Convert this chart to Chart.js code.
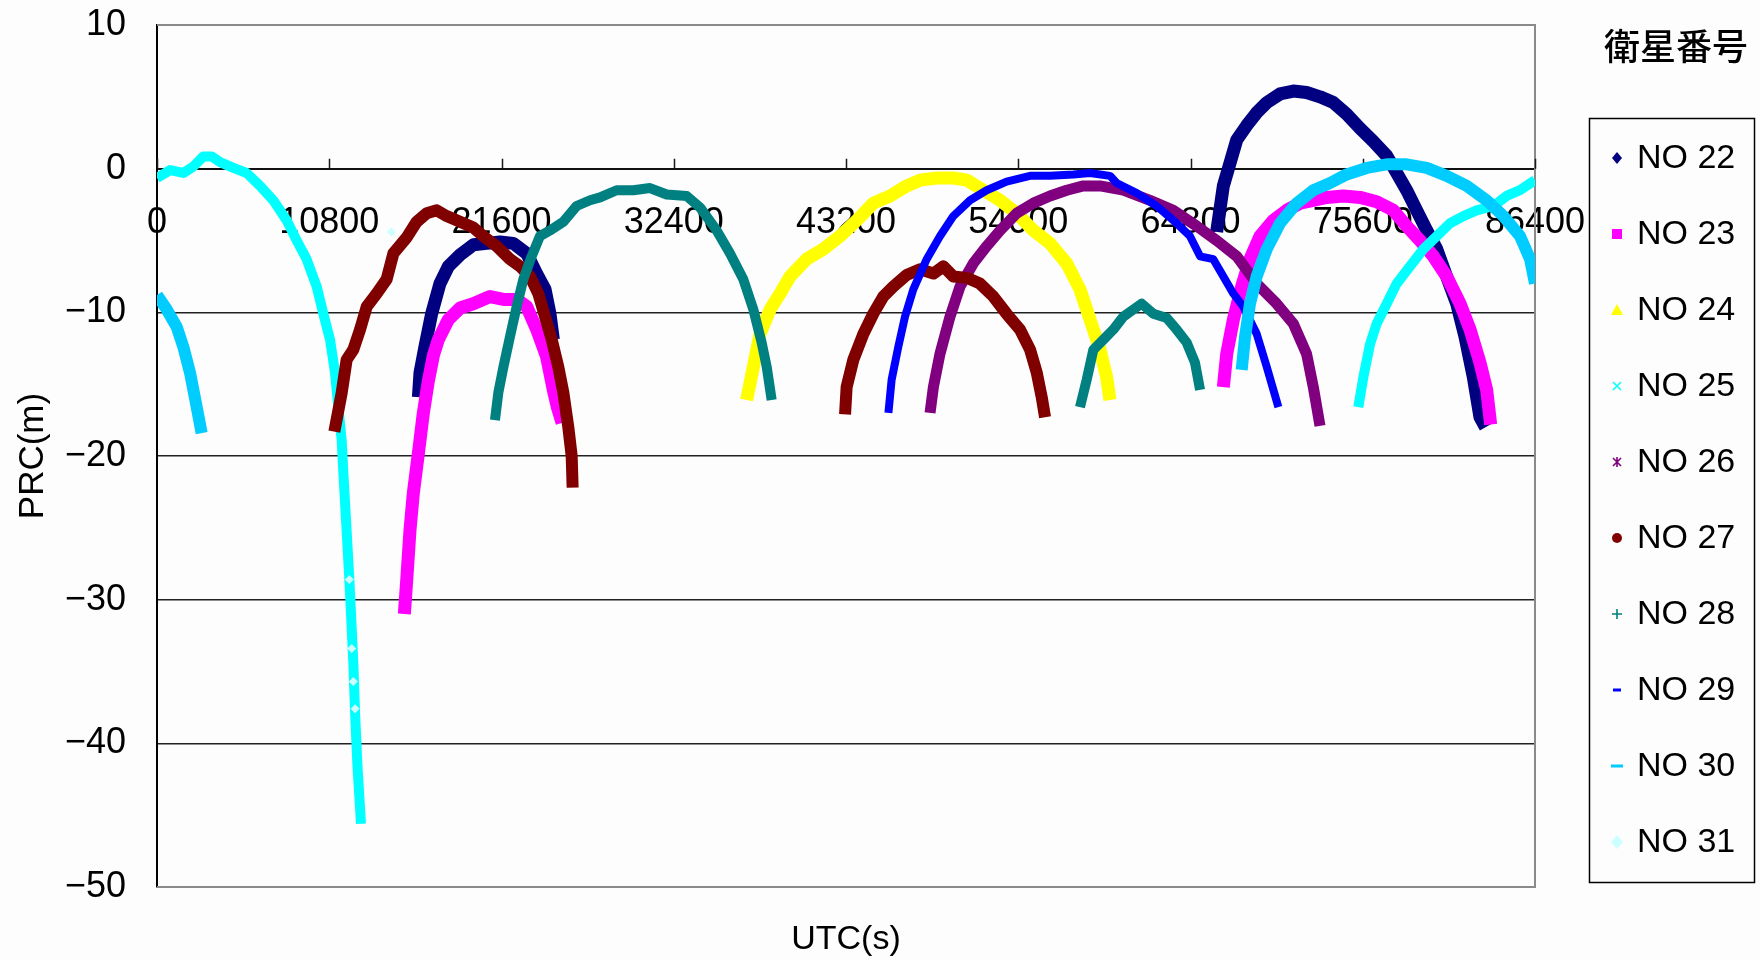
<!DOCTYPE html>
<html>
<head>
<meta charset="utf-8">
<script src="https://cdn.jsdelivr.net/npm/chart.js@4.4.1/dist/chart.umd.min.js"></script>
<style>
  html, body { margin: 0; padding: 0; background: #fdfdfd; }
  #wrap { position: relative; width: 1760px; height: 960px; }
</style>
</head>
<body>
<div id="wrap"><canvas id="c" width="1760" height="960"></canvas></div>
<script>
// ---- satellites, colours and axis ticks ----
const satLabels = ['NO 22', 'NO 23', 'NO 24', 'NO 25', 'NO 26', 'NO 27', 'NO 28', 'NO 29', 'NO 30', 'NO 31'];
const satColors = ['#000080', '#ff00ff', '#ffff00', '#00ffff', '#800080', '#800000', '#008080', '#0000ff', '#00ccff', '#ccffff'];
const xTicks = [0, 10800, 21600, 32400, 43200, 54000, 64800, 75600, 86400];
const yTicks = [10, 0, -10, -20, -30, -40, -50];

// ---- PRC (m) against UTC (s), one pair of arrays per visibility pass ----
const no22T1 = [16390, 16490, 16800, 17220, 17740, 18270, 19000, 19830, 20670, 21510, 22340, 23180, 23800, 24330, 24640, 24850];
const no22V1 = [-15.9, -14.2, -12.4, -10.1, -8.0, -6.8, -6.0, -5.3, -5.2, -5.1, -5.2, -5.9, -7.3, -8.4, -10.1, -11.9];
const no22T2 = [66440, 66860, 67280, 67700, 68320, 68950, 69580, 70410, 71250, 72080, 72920, 73760, 74590, 75430, 76260, 77100, 77730, 78350, 78980, 79610, 80240, 80860, 81490, 82010, 82530, 82950, 83300];
const no22V2 = [-4.4, -1.2, 0.4, 2.0, 3.0, 3.9, 4.6, 5.2, 5.4, 5.3, 5.0, 4.6, 3.8, 2.8, 1.9, 0.9, -0.3, -1.5, -2.9, -4.3, -5.6, -7.5, -9.4, -11.7, -14.5, -17.3, -18.0];

const no23T1 = [15510, 15660, 15860, 16070, 16390, 16700, 17010, 17330, 17640, 18270, 19000, 19830, 20880, 21720, 22550, 23180, 23810, 24430, 24850, 25100, 25400];
const no23V1 = [-31.0, -28.6, -25.2, -22.6, -19.8, -17.0, -14.8, -13.0, -11.9, -10.5, -9.7, -9.4, -8.9, -9.1, -9.1, -9.6, -11.2, -13.1, -15.4, -16.6, -17.7];
const no23T2 = [66860, 67070, 67490, 68010, 68530, 69160, 69990, 70830, 71670, 72500, 73340, 74380, 75430, 76470, 77520, 78350, 79190, 80030, 80860, 81700, 82330, 82950, 83370, 83620];
const no23V2 = [-15.2, -12.9, -10.5, -8.2, -6.3, -4.7, -3.6, -2.9, -2.4, -2.2, -2.0, -1.9, -2.0, -2.3, -2.9, -4.0, -5.0, -6.1, -7.5, -9.4, -11.2, -13.5, -15.4, -17.8];

const no24T1 = [36970, 37390, 37810, 38440, 39060, 39690, 40730, 41780, 42820, 43870, 44910, 45960, 47000, 47840, 48890, 49930, 50770, 51810, 52860, 53900, 54950, 55990, 57040, 57870, 58500, 59130, 59540, 59750];
const no24V1 = [-16.1, -13.8, -11.5, -9.8, -8.7, -7.5, -6.3, -5.6, -4.7, -3.6, -2.4, -1.9, -1.2, -0.8, -0.65, -0.65, -0.8, -1.5, -2.2, -3.1, -4.3, -5.2, -6.6, -8.4, -10.5, -12.6, -14.5, -16.1];

const no25T1 = [0, 820, 1650, 2280, 2900, 3430, 3950, 4790, 5620, 6460, 7290, 8130, 8760, 9380, 10010, 10430, 10850, 11160, 11370, 11580, 11700, 11890, 12060, 12160, 12310, 12420, 12560, 12790];
const no25V1 = [-0.65, -0.1, -0.3, 0.15, 0.85, 0.85, 0.45, 0.05, -0.3, -1.2, -2.2, -3.6, -5.0, -6.3, -8.2, -10.1, -11.9, -14.2, -16.6, -18.9, -21.5, -25.2, -28.6, -30.9, -34.4, -37.9, -41.4, -45.6];
const no25T2 = [75320, 75640, 76060, 76470, 77100, 77730, 78560, 79400, 80240, 81070, 81910, 82740, 83790, 84620, 85460, 86400];
const no25V2 = [-16.6, -14.5, -12.2, -10.8, -9.4, -8.0, -6.8, -5.6, -4.7, -3.8, -3.3, -2.9, -2.6, -1.9, -1.5, -0.8];

const no26T1 = [48470, 48680, 49090, 49720, 50350, 51180, 52020, 52860, 53900, 54950, 55990, 57040, 58080, 59130, 60590, 62260, 63720, 65190, 66440, 67700, 68950, 70200, 71250, 72080, 72500, 72920];
const no26V1 = [-17.0, -15.2, -12.9, -10.3, -8.2, -6.6, -5.4, -4.3, -3.1, -2.4, -1.9, -1.5, -1.2, -1.2, -1.5, -2.2, -2.9, -4.0, -5.0, -6.1, -8.0, -9.4, -10.8, -12.9, -15.2, -17.9];

const no27T1 = [11120, 11580, 11890, 12310, 12730, 13150, 13770, 14400, 14820, 15650, 16280, 16910, 17540, 18160, 19000, 19830, 20460, 21300, 22130, 22760, 23390, 23910, 24330, 24750, 25160, 25480, 25790, 26000, 26060];
const no27V1 = [-18.3, -15.6, -13.3, -12.6, -11.2, -9.6, -8.7, -7.7, -5.9, -4.8, -3.7, -3.1, -2.9, -3.3, -3.7, -4.1, -4.7, -5.4, -6.3, -6.8, -7.5, -8.7, -10.3, -11.9, -13.8, -15.6, -18.0, -20.0, -22.2];
const no27T2 = [43140, 43240, 43660, 44290, 44910, 45540, 46170, 47000, 47840, 48680, 49300, 49930, 50770, 51600, 52440, 53270, 54110, 54740, 55160, 55470, 55680];
const no27V2 = [-17.1, -15.2, -13.3, -11.5, -10.1, -8.9, -8.2, -7.4, -7.0, -7.3, -6.8, -7.5, -7.6, -8.0, -8.9, -10.1, -11.2, -12.6, -14.2, -15.9, -17.3];

const no28T1 = [21190, 21400, 21720, 22130, 22550, 22970, 23490, 24010, 24640, 25480, 26310, 27150, 27780, 28820, 29870, 30910, 31960, 33210, 34050, 35090, 35930, 36760, 37390, 37910, 38230, 38540];
const no28V1 = [-17.5, -15.6, -13.8, -11.7, -9.6, -7.7, -6.1, -4.7, -4.3, -3.7, -2.6, -2.2, -2.0, -1.5, -1.5, -1.35, -1.8, -1.9, -2.7, -4.3, -5.9, -7.7, -9.8, -12.1, -13.8, -16.1];
const no28T2 = [57870, 58290, 58710, 59340, 59960, 60590, 61220, 61740, 62470, 63310, 63930, 64560, 65080, 65400];
const no28V2 = [-16.6, -14.7, -12.6, -11.9, -11.2, -10.3, -9.8, -9.4, -10.1, -10.4, -11.2, -12.1, -13.5, -15.4];

const no29T1 = [45860, 46060, 46480, 46900, 47420, 48260, 49090, 49930, 50980, 52020, 53270, 54740, 55990, 57450, 58500, 59750, 60170, 61430, 62680, 63930, 64770, 65400, 66230, 66860, 67490, 68110, 68950, 69580, 70310];
const no29V1 = [-17.0, -14.7, -12.4, -10.3, -8.4, -6.3, -4.7, -3.3, -2.2, -1.5, -0.9, -0.5, -0.5, -0.4, -0.3, -0.5, -1.0, -1.7, -2.6, -3.8, -4.7, -6.1, -6.3, -7.5, -8.7, -9.6, -11.5, -13.8, -16.6];

const no30T1 = [0, 610, 1230, 1650, 2070, 2490, 2800];
const no30V1 = [-8.8, -9.8, -11.0, -12.4, -14.2, -16.6, -18.4];
const no30T2 = [68010, 68220, 68530, 68950, 69580, 70410, 71460, 72500, 73550, 74590, 75850, 77100, 78350, 79610, 80860, 82120, 83370, 84420, 85460, 86090, 86400];
const no30V2 = [-14.0, -11.7, -9.4, -7.5, -5.6, -3.8, -2.4, -1.5, -1.0, -0.4, 0.05, 0.3, 0.3, 0.05, -0.5, -1.2, -2.2, -3.3, -4.7, -6.3, -8.0];

const no31T1 = [12060, 12210, 12310, 12420, 14690];
const no31V1 = [-28.6, -33.4, -35.7, -37.6, -4.4];

const satPasses = [
  [[no22T1, no22V1], [no22T2, no22V2]],
  [[no23T1, no23V1], [no23T2, no23V2]],
  [[no24T1, no24V1]],
  [[no25T1, no25V1], [no25T2, no25V2]],
  [[no26T1, no26V1]],
  [[no27T1, no27V1], [no27T2, no27V2]],
  [[no28T1, no28V1], [no28T2, no28V2]],
  [[no29T1, no29V1]],
  [[no30T1, no30V1], [no30T2, no30V2]],
  [[no31T1, no31V1]]
];

// ---- drawing styles ----
const lineWidths = [13, 13, 13, 10, 11, 12, 10, 8, 12, 0];
const markerKinds = ['diamond', 'square', 'triangle', 'x', 'star', 'circle', 'plus', 'dash', 'longdash', 'bigdiamond'];
const FONT = '"Liberation Sans", Arial, sans-serif';

const datasets = [];
satPasses.forEach((passes, si) => {
  passes.forEach(([ts, vs]) => {
    const pointsOnly = si === 9;
    datasets.push({
      label: satLabels[si],
      data: ts.map((t, i) => ({ x: t, y: vs[i] })),
      showLine: !pointsOnly,
      borderColor: satColors[si],
      backgroundColor: satColors[si],
      borderWidth: lineWidths[si],
      borderJoinStyle: 'round',
      borderCapStyle: 'butt',
      tension: 0,
      pointRadius: pointsOnly ? 4.5 : 0,
      pointStyle: 'rectRot',
      pointBorderWidth: 0,
      order: -si
    });
  });
});

function drawMarker(ctx, kind, color, x, y) {
  ctx.save();
  ctx.fillStyle = color;
  ctx.strokeStyle = color;
  ctx.lineWidth = 1.6;
  ctx.beginPath();
  switch (kind) {
    case 'diamond':
      ctx.moveTo(x, y - 6); ctx.lineTo(x + 5, y); ctx.lineTo(x, y + 6); ctx.lineTo(x - 5, y); ctx.closePath(); ctx.fill(); break;
    case 'bigdiamond':
      ctx.moveTo(x, y - 7); ctx.lineTo(x + 6, y); ctx.lineTo(x, y + 7); ctx.lineTo(x - 6, y); ctx.closePath(); ctx.fill(); break;
    case 'square':
      ctx.fillRect(x - 5, y - 5, 10, 10); break;
    case 'triangle':
      ctx.moveTo(x, y - 6); ctx.lineTo(x + 6, y + 5); ctx.lineTo(x - 6, y + 5); ctx.closePath(); ctx.fill(); break;
    case 'x':
      ctx.moveTo(x - 4, y - 4); ctx.lineTo(x + 4, y + 4); ctx.moveTo(x + 4, y - 4); ctx.lineTo(x - 4, y + 4); ctx.stroke(); break;
    case 'star':
      ctx.moveTo(x - 4, y - 4); ctx.lineTo(x + 4, y + 4); ctx.moveTo(x + 4, y - 4); ctx.lineTo(x - 4, y + 4);
      ctx.moveTo(x, y - 5); ctx.lineTo(x, y + 5); ctx.stroke(); break;
    case 'circle':
      ctx.arc(x, y, 5, 0, Math.PI * 2); ctx.fill(); break;
    case 'plus':
      ctx.moveTo(x - 5, y); ctx.lineTo(x + 5, y); ctx.moveTo(x, y - 5); ctx.lineTo(x, y + 5); ctx.stroke(); break;
    case 'dash':
      ctx.fillRect(x - 4, y - 1.5, 8, 3); break;
    case 'longdash':
      ctx.fillRect(x - 6, y - 1.5, 12, 3); break;
  }
  ctx.restore();
}

const backdrop = {
  id: 'backdrop',
  beforeDraw(chart) {
    const ctx = chart.ctx;
    ctx.save();
    ctx.fillStyle = '#fdfdfd';
    ctx.fillRect(0, 0, chart.width, chart.height);
    ctx.restore();
  }
};

// grey plot frame and the upward tick marks on the zero axis
const frame = {
  id: 'frame',
  beforeDatasetsDraw(chart) {
    const { ctx, chartArea: a, scales } = chart;
    ctx.save();
    ctx.strokeStyle = '#8a8a8a';
    ctx.lineWidth = 2;
    ctx.beginPath();
    ctx.moveTo(a.left, a.top); ctx.lineTo(a.right, a.top);
    ctx.lineTo(a.right, a.bottom); ctx.lineTo(a.left, a.bottom);
    ctx.stroke();
    const y0 = scales.y.getPixelForValue(0);
    ctx.strokeStyle = '#1a1a1a';
    ctx.lineWidth = 1.5;
    ctx.beginPath();
    scales.x.ticks.forEach(t => {
      const px = Math.round(scales.x.getPixelForValue(t.value)) + 0.5;
      ctx.moveTo(px, y0); ctx.lineTo(px, y0 - 10);
    });
    ctx.stroke();
    ctx.restore();
  }
};

// boxed legend with its heading above it
const legendBox = {
  id: 'legendBox',
  afterDraw(chart) {
    const ctx = chart.ctx;
    ctx.save();
    ctx.fillStyle = '#000';
    ctx.font = '500 36px "Noto Sans CJK JP", sans-serif';
    ctx.textAlign = 'center';
    ctx.textBaseline = 'middle';
    ctx.fillText('衛星番号', 1676, 46);
    ctx.strokeStyle = '#000';
    ctx.lineWidth = 1.5;
    ctx.strokeRect(1589.5, 118.5, 165, 764);
    ctx.font = '34px ' + FONT;
    ctx.textAlign = 'left';
    satLabels.forEach((lab, i) => {
      const y = 158 + i * 76;
      drawMarker(ctx, markerKinds[i], satColors[i], 1617, y);
      ctx.fillStyle = '#000';
      ctx.fillText(lab, 1637, y + 1);
    });
    ctx.restore();
  }
};

const tickText = v => (v < 0 ? '\u2212' + Math.abs(v) : String(v));

new Chart(document.getElementById('c'), {
  type: 'scatter',
  data: { datasets },
  plugins: [backdrop, frame, legendBox],
  options: {
    responsive: false,
    animation: false,
    devicePixelRatio: 1,
    layout: { padding: { top: 25, right: 225, bottom: 0, left: 0 } },
    plugins: { legend: { display: false }, tooltip: { enabled: false } },
    scales: {
      x: {
        type: 'linear',
        position: { y: 0 },
        min: 0,
        max: 86400,
        afterBuildTicks: s => { s.ticks = xTicks.map(v => ({ value: v })); },
        grid: { display: false },
        border: { display: true, color: '#111', width: 2 },
        ticks: {
          color: '#000',
          font: { family: FONT, size: 36 },
          padding: 25,
          maxRotation: 0,
          autoSkip: false,
          callback: v => String(v)
        }
      },
      x2: {
        type: 'linear',
        position: 'bottom',
        grid: { display: false },
        border: { display: false },
        ticks: { display: false },
        afterFit: s => { s.height = 73; },
        title: {
          display: true,
          text: 'UTC(s)',
          color: '#000',
          font: { family: FONT, size: 34 },
          padding: { top: 0, bottom: 0 }
        }
      },
      y: {
        type: 'linear',
        min: -50,
        max: 10,
        afterBuildTicks: s => { s.ticks = yTicks.map(v => ({ value: v })); },
        afterFit: s => { s.width = 157; s.paddingTop = 0; s.paddingBottom = 0; },
        grid: {
          drawTicks: false,
          lineWidth: 1.5,
          color: c => (c.tick && (c.tick.value === 10 || c.tick.value === -50)) ? 'rgba(0,0,0,0)' : '#222'
        },
        border: { display: true, color: '#000', width: 2 },
        ticks: {
          color: '#000',
          font: { family: FONT, size: 36 },
          padding: 31,
          callback: v => tickText(v)
        },
        title: {
          display: true,
          text: 'PRC(m)',
          color: '#000',
          font: { family: FONT, size: 35 },
          padding: { top: 12, bottom: 0 }
        }
      }
    }
  }
});
</script>
</body>
</html>
